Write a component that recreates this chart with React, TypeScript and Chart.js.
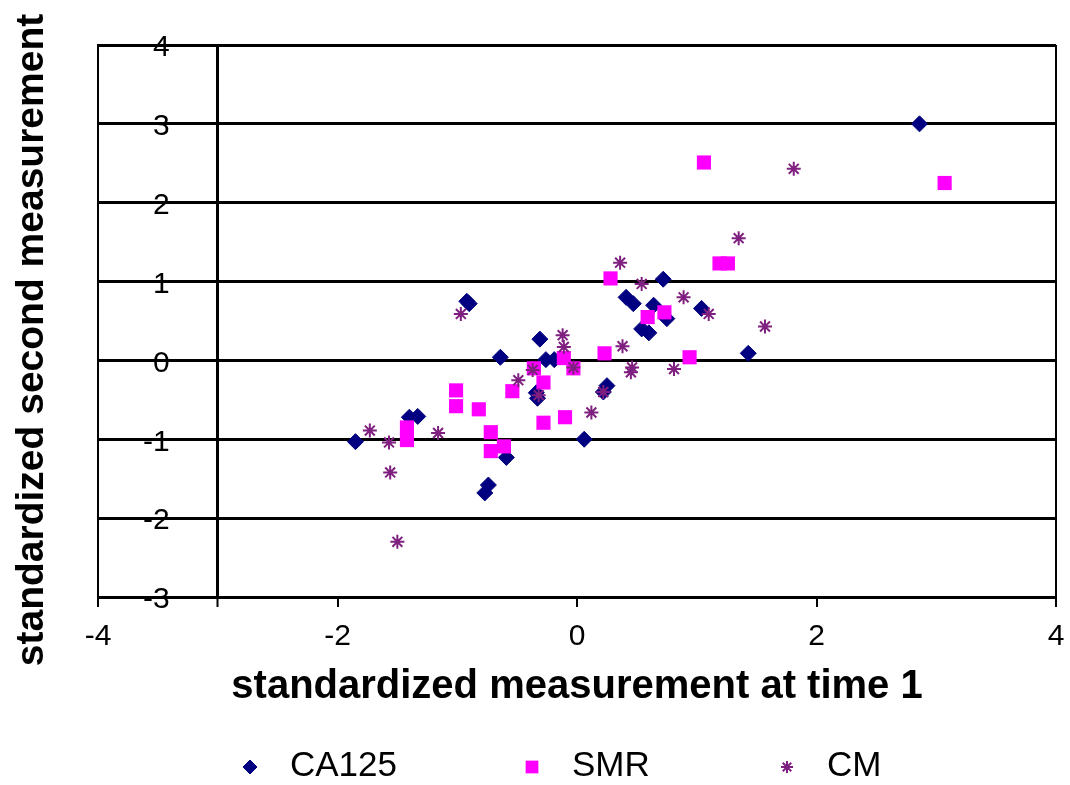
import React, { useEffect, useRef } from 'react';
import { Chart, registerables } from 'chart.js';
import { drawPoint } from 'chart.js/helpers';

Chart.register(...registerables);

// ---- Data ----
const seriesNames = ['CA125', 'SMR', 'CM'];

const ca125X = [2.86, -1.85, -0.92, -0.90, -1.40, -1.33, -0.64, -0.31, -0.26, -0.19, 0.25, 0.22, -0.34, -0.33, 0.06, -0.59, -0.74, -0.77, 0.72, 0.41, 0.47, 0.64, 0.75, 1.04, 0.54, 0.60, 1.43];
const ca125Y = [3.0, -1.03, 0.75, 0.72, -0.72, -0.71, 0.04, 0.27, 0.01, 0.01, -0.32, -0.40, -0.41, -0.48, -1.0, -1.23, -1.58, -1.68, 1.03, 0.80, 0.72, 0.70, 0.53, 0.66, 0.40, 0.35, 0.09];

const smrX = [1.06, 3.07, 1.19, 1.26, 0.28, 0.59, 0.73, 0.23, 0.94, -0.11, -0.03, -0.36, -0.28, -0.54, -1.01, -1.01, -0.82, -0.28, -0.10, -1.42, -1.42, -0.72, -0.72, -0.61];
const smrY = [2.51, 2.25, 1.23, 1.23, 1.04, 0.55, 0.61, 0.09, 0.04, 0.03, -0.10, -0.10, -0.28, -0.39, -0.38, -0.58, -0.62, -0.79, -0.72, -0.85, -1.01, -0.91, -1.15, -1.09];

const cmX = [1.81, 1.35, 0.36, 0.54, 0.89, 1.10, 1.57, -0.12, -0.11, 0.38, 0.46, 0.45, 0.81, 0.22, -0.03, -0.97, -0.49, -0.37, -0.32, 0.12, -1.73, -1.57, -1.16, -1.56, -1.50];
const cmY = [2.43, 1.55, 1.24, 0.97, 0.80, 0.59, 0.43, 0.32, 0.17, 0.18, -0.09, -0.15, -0.11, -0.40, -0.09, 0.59, -0.25, -0.12, -0.44, -0.66, -0.89, -1.04, -0.92, -1.42, -2.30];

const xTickValues = [-4, -3, -2, 0, 2, 4];
const xMin = -4;
const xMax = 4;
const yMin = -3;
const yMax = 4;
const yAxisCrossing = -3;

const xTitle = 'standardized measurement at time 1';
const yTitle = 'standardized second measurement';

// ---- Styles ----
const FONT = '"Liberation Sans", Arial, Helvetica, sans-serif';
const styles = [
  { pointStyle: 'rectRot', radius: 8, fill: '#000080', stroke: '#000080', borderWidth: 1 },
  { pointStyle: 'rect', radius: 10, fill: '#ff00ff', stroke: '#ff00ff', borderWidth: 0 },
  { pointStyle: 'star', radius: 7, fill: '#7f1f7f', stroke: '#7f1f7f', borderWidth: 2 },
];
const legendStyles = [
  { radius: 7 },
  { radius: 9 },
  { radius: 6 },
];

const zip = (xs: number[], ys: number[]) => xs.map((x, i) => ({ x, y: ys[i] }));

const customText = {
  id: 'customText',
  afterDraw(chart: any) {
    const ctx = chart.ctx as CanvasRenderingContext2D;
    const area = chart.chartArea;
    // Y-axis title (rotated)
    ctx.save();
    ctx.translate(43, (area.top + area.bottom) / 2 + 19);
    ctx.rotate(-Math.PI / 2);
    ctx.font = `bold 39px ${FONT}`;
    ctx.fillStyle = '#000';
    ctx.textAlign = 'center';
    ctx.textBaseline = 'alphabetic';
    ctx.fillText(yTitle, 0, 0);
    ctx.restore();

    // Legend
    const markerX = [250, 532, 787];
    const legendY = 767;
    ctx.save();
    ctx.font = `35px ${FONT}`;
    ctx.textAlign = 'left';
    ctx.textBaseline = 'middle';
    seriesNames.forEach((name, i) => {
      const st = styles[i];
      ctx.fillStyle = st.fill;
      ctx.strokeStyle = st.stroke;
      ctx.lineWidth = st.borderWidth;
      drawPoint(ctx, { pointStyle: st.pointStyle as any, radius: legendStyles[i].radius, borderWidth: st.borderWidth, rotation: 0 } as any, markerX[i], legendY);
      ctx.fillStyle = '#000';
      ctx.fillText(name, markerX[i] + 40, legendY - 1);
    });
    ctx.restore();
  },
};

export default function App() {
  const canvasRef = useRef<HTMLCanvasElement | null>(null);

  useEffect(() => {
    document.body.style.margin = '0';
    const canvas = canvasRef.current;
    if (!canvas) return;
    const seriesData = [zip(ca125X, ca125Y), zip(smrX, smrY), zip(cmX, cmY)];
    const chart = new Chart(canvas, {
      type: 'scatter',
      data: {
        datasets: seriesNames.map((name, i) => ({
          label: name,
          data: seriesData[i],
          pointStyle: styles[i].pointStyle as any,
          pointRadius: styles[i].radius,
          pointHoverRadius: styles[i].radius,
          backgroundColor: styles[i].fill,
          borderColor: styles[i].stroke,
          borderWidth: styles[i].borderWidth,
          showLine: false,
          order: seriesNames.length - i,
        })),
      },
      options: {
        responsive: false,
        animation: false,
        devicePixelRatio: 1,
        layout: { padding: { left: 8, right: 14, top: 45, bottom: 74 } },
        plugins: {
          legend: { display: false },
          tooltip: { enabled: false },
        },
        scales: {
          x: {
            type: 'linear',
            min: xMin,
            max: xMax,
            afterBuildTicks: (scale: any) => {
              scale.ticks = xTickValues.map((v) => ({ value: v }));
            },
            afterFit: (scale: any) => {
              scale.paddingLeft = 0;
              scale.paddingRight = 0;
            },
            ticks: {
              autoSkip: false,
              maxRotation: 0,
              padding: 12,
              color: '#000',
              font: { family: FONT, size: 30 },
              callback: (v: any) => (Number(v) === yAxisCrossing ? '' : String(v)),
            },
            grid: {
              drawOnChartArea: true,
              color: (c: any) => {
                const v = c.tick ? c.tick.value : null;
                return v === xMin || v === xMax || v === yAxisCrossing ? '#000' : 'rgba(0,0,0,0)';
              },
              lineWidth: (c: any) => (c.tick && c.tick.value === yAxisCrossing ? 3 : 2),
              tickLength: 10,
              tickColor: '#000',
              tickWidth: 2,
            },
            border: { display: true, color: '#000', width: 2 },
            title: {
              display: true,
              text: xTitle,
              color: '#000',
              font: { family: FONT, size: 40, weight: 'bold', lineHeight: 1 },
              padding: { top: 0, bottom: 4 },
            },
          },
          y: {
            type: 'linear',
            min: yMin,
            max: yMax,
            afterFit: (scale: any) => {
              scale.paddingTop = 0;
              scale.paddingBottom = 0;
            },
            ticks: {
              stepSize: 1,
              mirror: true,
              crossAlign: 'far',
              padding: 45,
              labelOffset: 3,
              color: '#000',
              font: { family: FONT, size: 30 },
            },
            grid: { color: '#000', lineWidth: 3, drawTicks: false },
            border: { display: true, color: '#000', width: 2 },
          },
        },
      },
      plugins: [customText],
    } as any);
    return () => chart.destroy();
  }, []);

  return (
    <div style={{ position: 'absolute', left: 0, top: 0, width: 1070, height: 785, background: '#fff' }}>
      <canvas ref={canvasRef} width={1070} height={785} style={{ display: 'block' }} />
    </div>
  );
}
